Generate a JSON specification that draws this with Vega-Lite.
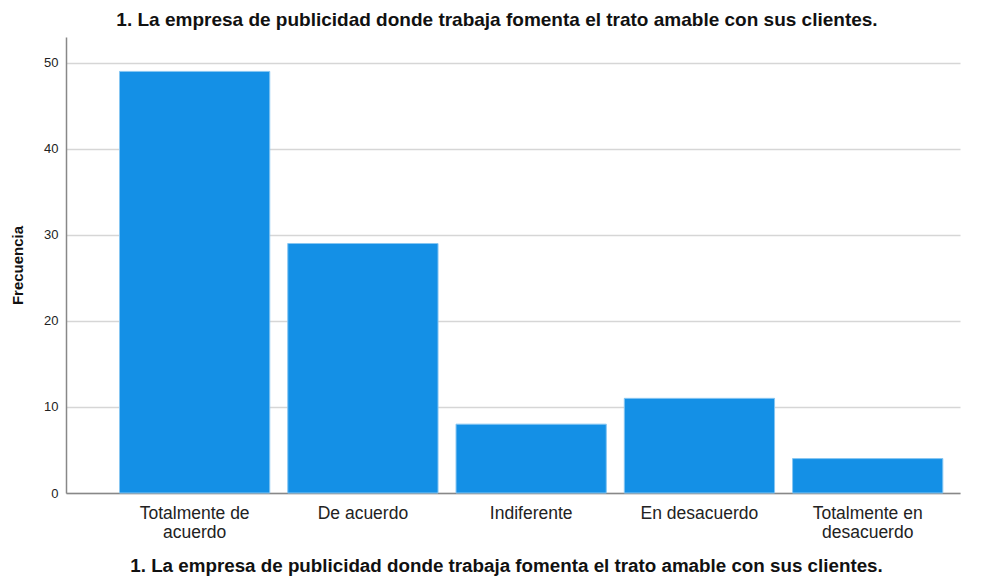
{
  "$schema": "https://vega.github.io/schema/vega-lite/v6.json",
  "width": 894,
  "height": 456,
  "autosize": {"type": "none"},
  "padding": {"left": 66, "top": 37, "right": 27, "bottom": 87},
  "background": "white",
  "title": {
    "text": "1. La empresa de publicidad donde trabaja fomenta el trato amable con sus clientes.",
    "font": "Liberation Sans",
    "fontSize": 19,
    "fontWeight": "bold",
    "color": "#111111",
    "anchor": "middle",
    "dx": -16,
    "offset": 7
  },
  "data": {
    "values": [
      {"respuesta": "Totalmente de acuerdo", "frecuencia": 49},
      {"respuesta": "De acuerdo", "frecuencia": 29},
      {"respuesta": "Indiferente", "frecuencia": 8},
      {"respuesta": "En desacuerdo", "frecuencia": 11},
      {"respuesta": "Totalmente en desacuerdo", "frecuencia": 4}
    ]
  },
  "mark": {"type": "bar", "color": "#1490E6", "stroke": "#86c6f2", "strokeWidth": 1},
  "encoding": {
    "x": {
      "field": "respuesta",
      "type": "nominal",
      "sort": null,
      "scale": {"paddingInner": 0.107, "paddingOuter": 0.21, "align": 0.757},
      "axis": {
        "title": "1. La empresa de publicidad donde trabaja fomenta el trato amable con sus clientes.",
        "titleFont": "Liberation Sans",
        "titleFontSize": 18.8,
        "titleFontWeight": "bold",
        "titleColor": "#111111",
        "titlePadding": 16,
        "titleX": 440,
        "labelAngle": 0,
        "labelFont": "Liberation Sans",
        "labelFontSize": 17.5,
        "labelColor": "#222222",
        "labelLineHeight": 19,
        "labelPadding": 11,
        "labelExpr": "datum.label == 'Totalmente de acuerdo' ? ['Totalmente de', 'acuerdo'] : datum.label == 'Totalmente en desacuerdo' ? ['Totalmente en', 'desacuerdo'] : datum.label",
        "ticks": false,
        "domainColor": "#888888",
        "domainWidth": 1.5,
        "grid": false
      }
    },
    "y": {
      "field": "frecuencia",
      "type": "quantitative",
      "scale": {"domain": [0, 53], "nice": false},
      "axis": {
        "title": "Frecuencia",
        "titleFont": "Liberation Sans",
        "titleFontSize": 15,
        "titleFontWeight": "bold",
        "titleColor": "#111111",
        "titlePadding": 18,
        "values": [0, 10, 20, 30, 40, 50],
        "labelFont": "Liberation Sans",
        "labelFontSize": 13,
        "labelColor": "#222222",
        "labelPadding": 8,
        "ticks": false,
        "domainColor": "#888888",
        "domainWidth": 1.5,
        "grid": true,
        "gridColor": "#d6d6d6",
        "gridWidth": 1.5
      }
    }
  },
  "config": {"view": {"stroke": null}}
}
